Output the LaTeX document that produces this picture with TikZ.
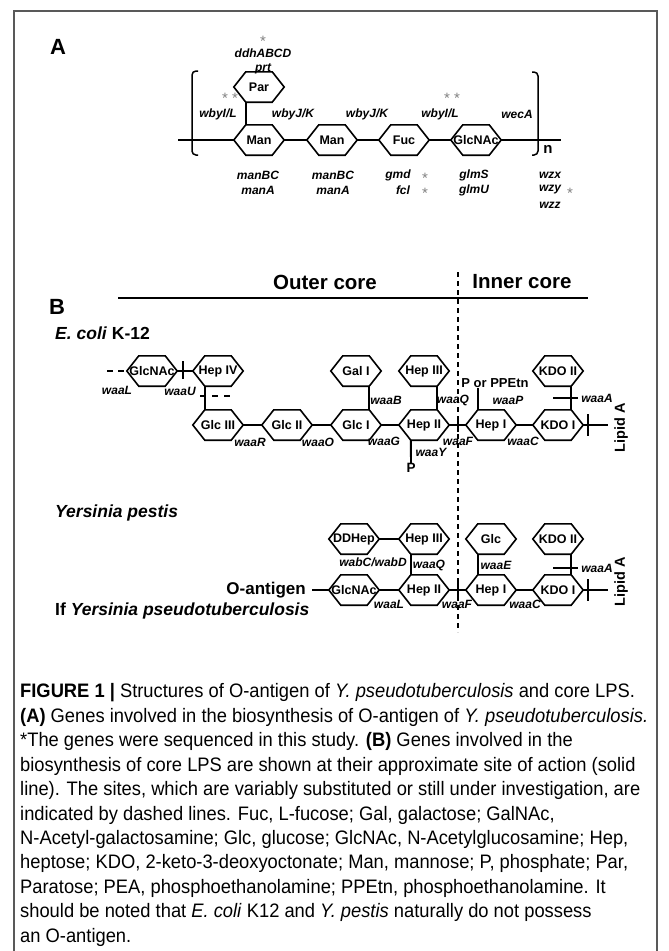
\documentclass[tikz,border=0pt]{standalone}
\usepackage{fontspec}
\setmainfont{Liberation Sans}
\newfontfamily\capfont[FakeStretch=0.94]{Liberation Sans}
\usetikzlibrary{positioning}

\tikzset{
  sugar/.style={minimum width=50pt, minimum height=30pt, inner sep=0pt, font=\fontsize{12.5}{13}\selectfont\bfseries},
  ring/.style={line width=1.6pt, line join=miter},
  bond/.style={line width=1.9pt},
  gene/.style={inner sep=0pt, font=\fontsize{12}{13}\selectfont\bfseries\itshape},
  seq/.style={inner sep=0pt, text=gray, font=\fontsize{15}{15}\selectfont},
  organism/.style={inner sep=0pt, anchor=west, font=\fontsize{17.5}{18}\selectfont\bfseries},
  panel/.style={inner sep=0pt, font=\fontsize{22}{22}\selectfont\bfseries},
  lipid/.style={inner sep=0pt, rotate=90, font=\fontsize{14.5}{15}\selectfont\bfseries},
  capline/.style={inner sep=0pt, anchor=west, font=\capfont\fontsize{19.5}{20}\selectfont},
}

\begin{document}
\begin{tikzpicture}[x=1pt, y=-1pt]
\useasboundingbox (0,0) rectangle (669,951);
\draw[line width=1.3pt, black!65] (14,951) -- (14,11) -- (657,11) -- (657,951);

% (A) O-antigen repeat unit
\node[panel] (labA) at (58,47) {A};
\node[seq] (starPar) at (263,41) {*};
\node[gene] (ddh) at (263,53) {ddhABCD};
\node[gene] (prt) at (263,69) {prt};

\node[sugar] (par) at (259,87) {Par};
\node[sugar] (manI) at (259,140) {Man};
\node[sugar] (manII) at (332,140) {Man};
\node[sugar] (fuc) at (404,140) {Fuc};
\node[sugar] (glcnacA) at (476,140) {GlcNAc};
\coordinate (chainL) at (178,140);
\coordinate (chainR) at (561,140);

\draw[bond] (chainL) -- (manI.west);
\draw[bond] (manI.east) -- (manII.west);
\draw[bond] (manII.east) -- (fuc.west);
\draw[bond] (fuc.east) -- (glcnacA.west);
\draw[bond] (glcnacA.east) -- (chainR);
\draw[bond] ([xshift=12pt]par.south west) -- ([xshift=12pt]manI.north west);

\draw[line width=1.5pt, rounded corners=4pt] (198,71) -- (192,71) -- (192,155) -- (198,155);
\draw[line width=1.5pt, rounded corners=4pt] (532,72) -- (538,72) -- (538,155) -- (532,155);
\node[inner sep=0pt, font=\fontsize{15}{15}\selectfont\bfseries] (rep) at (548,149) {n};

\node[seq] (starA1) at (230,98.5) {* *};
\node[gene] (wbyIa) at (218,114) {wbyI/L};
\node[gene] (wbyJa) at (293,114) {wbyJ/K};
\node[gene] (wbyJb) at (367,114) {wbyJ/K};
\node[seq] (starA2) at (452,98.5) {* *};
\node[gene] (wbyIb) at (440,114) {wbyI/L};
\node[gene] (weca) at (517,114) {wecA};

\node[gene] (manBCa) at (258,175) {manBC};
\node[gene] (manAa) at (258,190) {manA};
\node[gene] (manBCb) at (333,175) {manBC};
\node[gene] (manAb) at (333,190) {manA};
\node[gene] (gmd) at (398,175) {gmd};
\node[seq] (starGmd) at (425,178) {*};
\node[gene] (fcl) at (403,190) {fcl};
\node[seq] (starFcl) at (425,193) {*};
\node[gene] (glmS) at (474,175) {glmS};
\node[gene] (glmU) at (474,190) {glmU};
\node[gene] (wzx) at (550,175) {wzx};
\node[gene] (wzy) at (550,190) {wzy};
\node[seq] (starWzy) at (570,193) {*};
\node[gene] (wzz) at (550,205) {wzz};

% (B) core LPS
\node[panel] (labB) at (57,307) {B};
\draw[line width=2pt] (118,298) -- (588,298);
\node[inner sep=0pt, font=\fontsize{20.5}{21}\selectfont\bfseries] (outer) at (325,282) {Outer core};
\node[inner sep=0pt, font=\fontsize{20.5}{21}\selectfont\bfseries] (inner) at (522,282) {Inner core};
\draw[line width=1.2pt, dash pattern=on 5pt off 4pt] (458,272) -- (458,632);

% E. coli K-12
\node[organism] (ecoli) at (55,333) {\textit{E. coli} K-12};
\node[sugar] (glcnacE) at (152,371) {GlcNAc};
\node[sugar] (hepIV) at (218,371) {Hep IV};
\node[sugar] (galI) at (356,371) {Gal I};
\node[sugar] (hepIIIe) at (424,371) {Hep III};
\node[sugar] (kdoIIe) at (558,371) {KDO II};
\node[sugar] (glcIII) at (218,425) {Glc III};
\node[sugar] (glcII) at (287,425) {Glc II};
\node[sugar] (glcI) at (356,425) {Glc I};
\node[sugar] (hepIIe) at (424,425) {Hep II};
\node[sugar] (hepIe) at (491,425) {Hep I};
\node[sugar] (kdoIe) at (558,425) {KDO I};
\coordinate (olig) at (107,371);
\coordinate (lipE) at (608,425);
\coordinate (hepIeTL) at ([xshift=12pt]hepIe.north west);
\node[inner sep=0pt, font=\fontsize{13}{13}\selectfont\bfseries] (ppetn) at (495,383) {P or PPEtn};
\node[inner sep=0pt, font=\fontsize{13.5}{14}\selectfont\bfseries] (pE) at (411,468) {P};

\draw[bond, dash pattern=on 6pt off 5pt] (olig) -- (glcnacE.west);
\draw[bond] (glcnacE.east) -- (hepIV.west);
\draw[bond] (183,361) -- (183,379);
\draw[bond] ([xshift=12pt]hepIV.south west) -- ([xshift=12pt]glcIII.north west);
\draw[bond, dash pattern=on 6pt off 6pt] (200,396) -- (231,396);
\draw[bond] (glcIII.east) -- (glcII.west);
\draw[bond] (glcII.east) -- (glcI.west);
\draw[bond] ([xshift=-12pt]galI.south east) -- ([xshift=-12pt]glcI.north east);
\draw[bond] (glcI.east) -- (hepIIe.west);
\draw[bond] ([xshift=-12pt]hepIIIe.south east) -- ([xshift=-12pt]hepIIe.north east);
\draw[bond] ([xshift=12pt]hepIIe.south west) -- (pE.north);
\draw[bond] (hepIIe.east) -- (hepIe.west);
\draw[bond] (458,418) -- (458,432);
\draw[bond] (hepIeTL |- ppetn.south) -- (hepIeTL);
\draw[bond] (hepIe.east) -- (kdoIe.west);
\draw[bond] ([xshift=-12pt]kdoIIe.south east) -- ([xshift=-12pt]kdoIe.north east);
\draw[bond] (553,398) -- (578,398);
\draw[bond] (kdoIe.east) -- (lipE);
\draw[bond] (588,414) -- (588,436);
\node[lipid] (lipidE) at (621,428) {Lipid A};

\node[gene] (waaLe) at (117,390) {waaL};
\node[gene] (waaU) at (180,391) {waaU};
\node[gene] (waaR) at (250,442) {waaR};
\node[gene] (waaO) at (318,442) {waaO};
\node[gene] (waaB) at (386,400) {waaB};
\node[gene] (waaG) at (384,441) {waaG};
\node[gene] (waaQe) at (453,400) {waaQ};
\node[gene] (waaY) at (431,452) {waaY};
\node[gene] (waaFe) at (458,441) {waaF};
\node[gene] (waaP) at (508,400) {waaP};
\node[gene] (waaCe) at (523,441) {waaC};
\node[gene] (waaAe) at (597,398) {waaA};

% Yersinia
\node[organism] (ypestis) at (55,513) {\textit{Yersinia pestis}};
\node[organism] (ypseudo) at (55,611) {If \textit{Yersinia pseudotuberculosis}};
\node[inner sep=0pt, anchor=east, font=\fontsize{17}{18}\selectfont\bfseries] (oant) at (306,590) {O-antigen};
\node[sugar] (ddhep) at (354,539) {DDHep};
\node[sugar] (hepIIIy) at (424,539) {Hep III};
\node[sugar] (glcy) at (491,539) {Glc};
\node[sugar] (kdoIIy) at (558,539) {KDO II};
\node[sugar] (glcnacY) at (354,590) {GlcNAc};
\node[sugar] (hepIIy) at (424,590) {Hep II};
\node[sugar] (hepIy) at (491,590) {Hep I};
\node[sugar] (kdoIy) at (558,590) {KDO I};
\coordinate (lipY) at (608,590);

\draw[bond] ([xshift=6pt]oant.east) -- (glcnacY.west);
\draw[bond] (ddhep.east) -- (hepIIIy.west);
\draw[bond] ([xshift=12pt]hepIIIy.south west) -- ([xshift=12pt]hepIIy.north west);
\draw[bond] (glcnacY.east) -- (hepIIy.west);
\draw[bond] (hepIIy.east) -- (hepIy.west);
\draw[bond] (458,583) -- (458,597);
\draw[bond] ([xshift=12pt]glcy.south west) -- ([xshift=12pt]hepIy.north west);
\draw[bond] (hepIy.east) -- (kdoIy.west);
\draw[bond] ([xshift=-12pt]kdoIIy.south east) -- ([xshift=-12pt]kdoIy.north east);
\draw[bond] (553,568) -- (578,568);
\draw[bond] (kdoIy.east) -- (lipY);
\draw[bond] (588,579) -- (588,601);
\node[lipid] (lipidY) at (621,582) {Lipid A};

\node[gene] (wabCD) at (373,562) {wabC/wabD};
\node[gene] (waaQy) at (429,565) {waaQ};
\node[gene] (waaLy) at (389,604) {waaL};
\node[gene] (waaE) at (496,565) {waaE};
\node[gene] (waaFy) at (457,604) {waaF};
\node[gene] (waaCy) at (525,604) {waaC};
\node[gene] (waaAy) at (597,568) {waaA};

% sugar rings
\foreach \s in {par,manI,manII,fuc,glcnacA,glcnacE,hepIV,galI,hepIIIe,kdoIIe,glcIII,glcII,glcI,hepIIe,hepIe,kdoIe,ddhep,hepIIIy,glcy,kdoIIy,glcnacY,hepIIy,hepIy,kdoIy}
  \draw[ring] (\s.west) -- ([xshift=12pt]\s.north west) -- ([xshift=-12pt]\s.north east) -- (\s.east) -- ([xshift=-12pt]\s.south east) -- ([xshift=12pt]\s.south west) -- cycle;

% caption
\foreach \t [count=\i] in {
  {\textbf{FIGURE 1 |} Structures of O-antigen of \textit{Y. pseudotuberculosis} and core LPS.},
  {\textbf{(A)} Genes involved in the biosynthesis of O-antigen of \textit{Y. pseudotuberculosis.}},
  {*The genes were sequenced in this study. \textbf{(B)} Genes involved in the},
  {biosynthesis of core LPS are shown at their approximate site of action (solid},
  {line). The sites, which are variably substituted or still under investigation, are},
  {indicated by dashed lines. Fuc, L-fucose; Gal, galactose; GalNAc,},
  {N-Acetyl-galactosamine; Glc, glucose; GlcNAc, N-Acetylglucosamine; Hep,},
  {heptose; KDO, 2-keto-3-deoxyoctonate; Man, mannose; P, phosphate; Par,},
  {Paratose; PEA, phosphoethanolamine; PPEtn, phosphoethanolamine. It},
  {should be noted that \textit{E. coli} K12 and \textit{Y. pestis} naturally do not possess},
  {an O-antigen.}}
  \node[capline] (cap\i) at (20,{693+24.4*(\i-1)}) {\t};
\end{tikzpicture}
\end{document}
